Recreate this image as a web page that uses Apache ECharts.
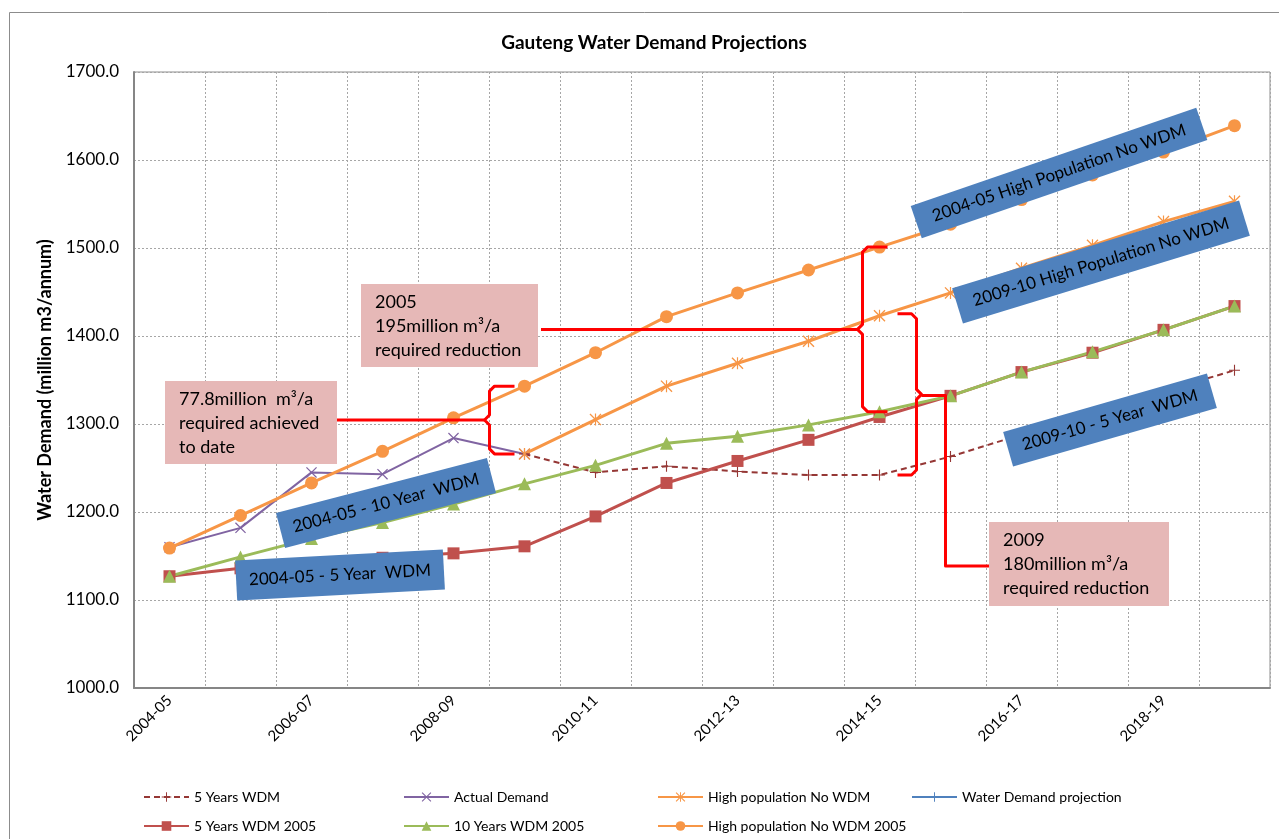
<!DOCTYPE html>
<html>
<head>
<meta charset="utf-8">
<script src="https://cdn.jsdelivr.net/npm/echarts@6/dist/echarts.min.js"></script>
<style>
  html, body { margin: 0; padding: 0; background: #fff; }
  #chart { width: 1279px; height: 839px; }
</style>
</head>
<body>
<div id="chart"></div>
<script>
// Financial years on the category axis
const categories = ['2004-05', '2005-06', '2006-07', '2007-08', '2008-09', '2009-10', '2010-11', '2011-12',
  '2012-13', '2013-14', '2014-15', '2015-16', '2016-17', '2017-18', '2018-19', '2019-20'];

// Water demand, million m3/annum (null = no value for that year)
const fiveYearsWDM = [null, null, null, null, null, 1266, 1245, 1252, 1246, 1242, 1242, 1263, 1288, 1312, 1337, 1361];
const actualDemand = [1160, 1182, 1245, 1243, 1284, 1266, null, null, null, null, null, null, null, null, null, null];
const highPopNoWDM = [null, null, null, null, null, 1266, 1305, 1343, 1369, 1394, 1423, 1449, 1477, 1503, 1530, 1553];
const waterDemandProjection = [];
const fiveYearsWDM2005 = [1127, 1136, 1142, 1148, 1153, 1161, 1195, 1233, 1258, 1282, 1308, 1332, 1359, 1381, 1407, 1434];
const tenYearsWDM2005 = [1127, 1149, 1170, 1188, 1209, 1232, 1253, 1278, 1286, 1299, 1314, 1332, 1359, 1382, 1407, 1434];
const highPopNoWDM2005 = [1159, 1196, 1233, 1269, 1307, 1343, 1381, 1422, 1449, 1475, 1501, 1527, 1555, 1583, 1609, 1639];

const FONT = 'Lato, "Open Sans", "Liberation Sans", sans-serif';

// Marker shapes drawn as filled paths
const PLUS = 'path://M4.5,0H5.5V10H4.5ZM0,4.5H10V5.5H0Z';
const CROSS = 'path://M0,0.8L0.8,0L10,9.2L9.2,10ZM10,0.8L0.8,10L0,9.2L9.2,0Z';
const STAR = 'path://M0,0.8L0.8,0L10,9.2L9.2,10ZM10,0.8L0.8,10L0,9.2L9.2,0ZM4.5,0H5.5V10H4.5Z';

function line(name, data, color, symbol, symbolSize, width, dashed) {
  return {
    name, type: 'line', data,
    symbol, symbolSize, showSymbol: true, showAllSymbol: true,
    connectNulls: false,
    lineStyle: { color, width, type: dashed ? [6, 4] : 'solid' },
    itemStyle: { color, borderWidth: 0 },
    emphasis: { disabled: true }
  };
}

const series = [
  line('5 Years WDM', fiveYearsWDM, '#953735', PLUS, 11, 2, true),
  line('Actual Demand', actualDemand, '#8064A2', CROSS, 11, 2, false),
  line('High population No WDM', highPopNoWDM, '#F79646', STAR, 12, 3, false),
  line('Water Demand projection', waterDemandProjection, '#4F81BD', PLUS, 11, 3, false),
  line('5 Years WDM 2005', fiveYearsWDM2005, '#C0504D', 'rect', 12, 3, false),
  line('10 Years WDM 2005', tenYearsWDM2005, '#9BBB59', 'triangle', 13, 3, false),
  line('High population No WDM 2005', highPopNoWDM2005, '#F79646', 'circle', 13, 3, false)
];

// Legend layout: one legend per entry, two rows of four columns
const legendSlots = [
  ['5 Years WDM', 138, 785], ['Actual Demand', 398, 785], ['High population No WDM', 652, 785],
  ['Water Demand projection', 906, 785],
  ['5 Years WDM 2005', 138, 814], ['10 Years WDM 2005', 398, 814], ['High population No WDM 2005', 652, 814]
];
const legends = legendSlots.map(([name, left, top]) => ({
  data: [name], left, top, orient: 'horizontal',
  itemWidth: 45, itemHeight: 12, selectedMode: false,
  textStyle: { fontFamily: FONT, fontSize: 14, color: '#000' }
}));

const chart = echarts.init(document.getElementById('chart'));
chart.setOption({
  animation: false,
  backgroundColor: '#fff',
  title: {
    text: 'Gauteng Water Demand Projections',
    left: 649, top: 28, textAlign: 'center',
    textStyle: { fontFamily: FONT, fontSize: 19, fontWeight: 'bold', color: '#000' }
  },
  legend: legends,
  grid: {
    left: 134, right: 9, top: 72, bottom: 151,
    show: true, borderColor: '#8c8c8c', borderWidth: 1,
    outerBoundsMode: 'none'
  },
  xAxis: {
    type: 'category', data: categories, boundaryGap: true,
    axisLine: { lineStyle: { color: '#868686', width: 2 } },
    axisTick: { show: false, interval: 0 },
    axisLabel: { interval: 1, rotate: 45, margin: 10, fontFamily: FONT, fontSize: 15, color: '#000' },
    splitLine: { show: true, interval: 0, lineStyle: { color: '#a6a6a6', type: [2, 2], width: 1 } }
  },
  yAxis: {
    type: 'value', min: 1000, max: 1700, interval: 100,
    name: 'Water Demand (million m3/annum)', nameLocation: 'middle', nameGap: 80,
    nameTextStyle: { fontFamily: FONT, fontSize: 18, fontWeight: 'bold', color: '#000' },
    axisLine: { show: true, lineStyle: { color: '#868686', width: 2 } },
    axisTick: { show: false },
    axisLabel: { formatter: v => v.toFixed(1), margin: 15, fontFamily: FONT, fontSize: 17, color: '#000' },
    splitLine: { show: true, lineStyle: { color: '#a6a6a6', type: [2, 2], width: 1 } }
  },
  series
});

// ---- annotations ----
const px = (i, v) => chart.convertToPixel({ xAxisIndex: 0, yAxisIndex: 0 }, [i, v]);
const RED = '#FF0000';

function poly(points) {
  return { type: 'polyline', z: 100, shape: { points }, style: { stroke: RED, lineWidth: 3, fill: null, lineJoin: 'round' } };
}
// Curly brace; dir = -1 points left (arms to the right), +1 points right
function brace(x0, top, bot, dir, arm) {
  const mid = (top + bot) / 2, r = 5;
  return poly([[x0 - dir * arm, top], [x0 - dir * r, top], [x0, top + r], [x0, mid - r], [x0 + dir * r, mid],
    [x0, mid + r], [x0, bot - r], [x0 - dir * r, bot], [x0 - dir * arm, bot]]);
}
function noteBox(x, y, w, h, lines) {
  return [
    { type: 'rect', z: 100, shape: { x, y, width: w, height: h }, style: { fill: '#E6B8B7' } },
    { type: 'text', z: 101, style: { x: x + 14, y: y + 6, text: lines.join('\n'), fontFamily: FONT, fontSize: 18,
      lineHeight: 24, fill: '#000', align: 'left', verticalAlign: 'top' } }
  ];
}
function tag(cx, cy, w, h, deg, text) {
  return {
    type: 'group', x: cx, y: cy, rotation: deg * Math.PI / 180, z: 100,
    children: [
      { type: 'rect', z: 100, shape: { x: -w / 2, y: -h / 2, width: w, height: h }, style: { fill: '#4F81BD' } },
      { type: 'text', z: 101, style: { x: 0, y: 0, text, fontFamily: FONT, fontSize: 17, fill: '#000',
        align: 'center', verticalAlign: 'middle' } }
    ]
  };
}

const g = [];
g.push({ type: 'rect', z: -1, shape: { x: 9.5, y: 12.5, width: 1400, height: 900 },
  style: { fill: null, stroke: '#8c8c8c', lineWidth: 1 } });

// 2005: 195 million m3/a required reduction, measured in 2014-15
{
  const [x, top] = px(10, highPopNoWDM2005[10]);
  const bot = px(10, tenYearsWDM2005[10])[1];
  const x0 = x - 17, mid = (top + bot) / 2;
  g.push(brace(x0, top, bot, -1, 25));
  g.push(poly([[541, mid], [x0 - 5, mid]]));
}
// 2009: 180 million m3/a required reduction, measured in 2014-15
{
  const [x, top] = px(10, highPopNoWDM[10]);
  const bot = px(10, fiveYearsWDM[10])[1];
  const x0 = x + 37, mid = (top + bot) / 2;
  g.push(brace(x0, top - 2, bot, 1, 19));
  g.push(poly([[x0 + 5, mid], [x + 66, mid], [x + 66, 566], [989, 566]]));
}
// 77.8 million m3/a achieved, 2009-10
{
  const [x, top] = px(5, highPopNoWDM2005[5]);
  const bot = px(5, actualDemand[5])[1];
  const x0 = x - 35, mid = (top + bot) / 2;
  g.push(brace(x0, top, bot, -1, 25));
  g.push(poly([[337, mid], [x0 - 5, mid]]));
}

g.push(...noteBox(361, 284, 177, 83, ['2005', '195million m³/a', 'required reduction']));
g.push(...noteBox(165, 381, 172, 83, ['77.8million  m³/a', 'required achieved', 'to date']));
g.push(...noteBox(989, 522, 180, 84, ['2009', '180million m³/a', 'required reduction']));

g.push(tag(1059, 173, 302, 34, 19, '2004-05 High Population No WDM'));
g.push(tag(1101, 262, 300, 37, 17, '2009-10 High Population No WDM'));
g.push(tag(1110, 420, 212, 36, 16, '2009-10 - 5 Year  WDM'));
g.push(tag(386, 503, 218, 36, 14.6, '2004-05 - 10 Year  WDM'));
g.push(tag(340, 575, 208, 40, 3, '2004-05 - 5 Year  WDM'));

chart.setOption({ graphic: g });
</script>
</body>
</html>
